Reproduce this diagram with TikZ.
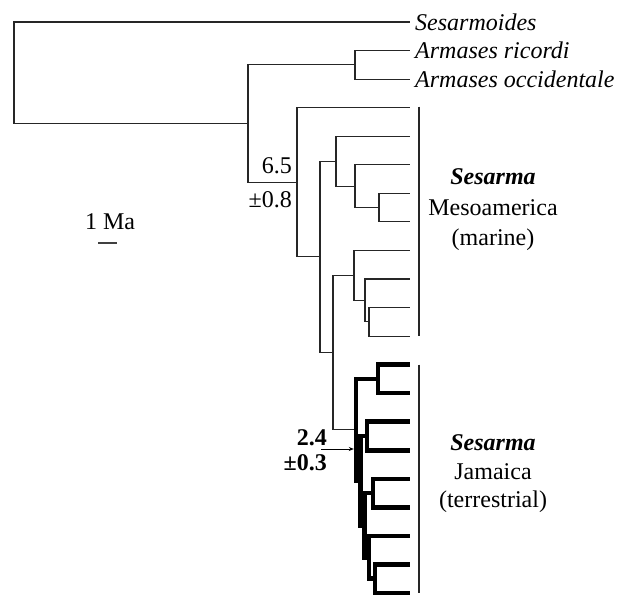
\documentclass[tikz,border=0pt]{standalone}
\usepackage{fontspec}
\setmainfont{Liberation Serif}
\usetikzlibrary{arrows.meta,positioning,calc}

\begin{document}
\begin{tikzpicture}[x=1pt,y=-1pt,>=Stealth,
  br/.style={line width=1.1pt,black!85},
  thk/.style={line width=4.6pt,black},
  bar/.style={line width=1.3pt,black!85},
  taxon/.style={inner sep=0pt,font=\fontsize{24}{26}\selectfont\itshape},
  lbl/.style={inner sep=0pt,font=\fontsize{24}{26}\selectfont}]
\useasboundingbox (0,0) rectangle (623,595);

% leaf tips
\foreach \i in {0,...,20}
  \coordinate (l\i) at (410,{22+28.55*\i});

% internal nodes
\coordinate (root) at (14,72.8);
\coordinate (A) at (248,123.5);
\coordinate (arm) at (355,64.8);
\coordinate (B) at (297,182.3);
\coordinate (C) at (320,256.9);
\coordinate (D) at (336,161.2);
\coordinate (E) at (355,186.2);
\coordinate (F) at (379,207.6);
\coordinate (G) at (333,352.6);
\coordinate (H) at (354,275.4);
\coordinate (I) at (365,300.4);
\coordinate (J) at (369,321.8);
% Jamaica clade
\coordinate (R1) at (356,429.75);
\coordinate (R2) at (360.5,480.6);
\coordinate (R3) at (364.5,525.2);
\coordinate (R4) at (369,557.3);
\coordinate (b1) at (378,378.9);
\coordinate (b2) at (367,436);
\coordinate (b3) at (373,493.1);
\coordinate (b5) at (375,578.7);

% thin branches
\foreach \p/\c in {root/l0,root/A,A/arm,arm/l1,arm/l2,A/B,B/l3,B/C,
    C/D,D/l4,D/E,E/l5,E/F,F/l6,F/l7,C/G,G/H,H/l8,H/I,I/l9,I/J,J/l10,J/l11,G/R1}
  \draw[br] (\p) |- (\c);

% thick branches
\foreach \p/\c in {R1/b1,R1/R2,b1/l12,b1/l13,R2/b2,R2/R3,b2/l14,b2/l15,
    R3/b3,R3/R4,b3/l16,b3/l17,R4/l18,R4/b5,b5/l19,b5/l20}
  \draw[thk] (\p) |- (\c);

% taxa
\node[taxon,right=5pt of l0] (t0) {Sesarmoides};
\node[taxon,right=5pt of l1] (t1) {Armases ricordi};
\node[taxon,right=5pt of l2] (t2) {Armases occidentale};

% clade bars
\coordinate (m1) at (419,106.5);
\coordinate (m2) at (419,336);
\coordinate (j1) at (419,364.6);
\coordinate (j2) at (419,593);
\draw[bar] (m1) -- (m2);
\draw[bar] (j1) -- (j2);

\node[lbl,align=center,font=\fontsize{24}{30.5}\selectfont] (marine) at (493,210)
  {\textbf{\textit{Sesarma}}\\Mesoamerica\\(marine)};
\node[lbl,align=center,font=\fontsize{24}{28.5}\selectfont] (jam) at (493,474)
  {\textbf{\textit{Sesarma}}\\Jamaica\\(terrestrial)};

% ages
\node[lbl,anchor=east] (a1) at (292,166) {6.5};
\node[lbl,anchor=east] (a2) at (292,200) {\textpm0.8};
\node[lbl,anchor=east,font=\fontsize{24}{26}\selectfont\bfseries] (a3) at (327,438) {2.4};
\node[lbl,anchor=east,font=\fontsize{24}{26}\selectfont\bfseries] (a4) at (327,463) {\textpm0.3};
\coordinate (ar) at (321,449);
\draw[line width=0.8pt,-{Stealth[length=5pt,width=4pt]},shorten >=2.2pt] (ar) -- (ar -| R1);

% scale
\node[lbl] (ma) at (110,222) {1 Ma};
\coordinate (s1) at (98,243);
\coordinate (s2) at (117,243);
\draw[line width=1.4pt,black!75] (s1) -- (s2);

\end{tikzpicture}
\end{document}
